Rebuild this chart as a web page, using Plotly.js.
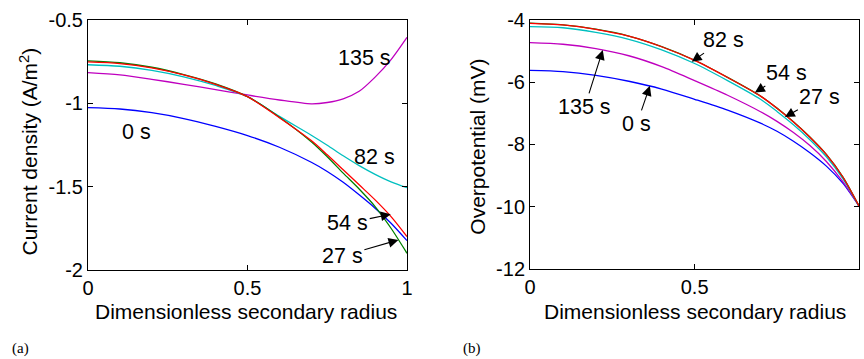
<!DOCTYPE html>
<html>
<head>
<meta charset="utf-8">
<script src="https://cdn.plot.ly/plotly-3.0.1.min.js"></script>
<style>html,body{margin:0;padding:0;background:#fff;}#chart{width:864px;height:359px;}</style>
</head>
<body>
<div id="chart"></div>
<script>
// Dimensionless secondary radius samples
var radius = [0, 0.1, 0.2, 0.3, 0.4, 0.5, 0.6, 0.7, 0.75, 0.8, 0.85, 0.9, 0.95, 1];

// (a) Current density (A/m^2)
var cd_0s   = [-1.028, -1.036, -1.058, -1.093, -1.140, -1.195, -1.265, -1.355, -1.410, -1.475, -1.550, -1.630, -1.720, -1.824];
var cd_27s  = [-0.748, -0.759, -0.786, -0.830, -0.886, -0.962, -1.085, -1.232, -1.322, -1.420, -1.515, -1.620, -1.750, -1.900];
var cd_54s  = [-0.754, -0.764, -0.790, -0.832, -0.888, -0.962, -1.088, -1.225, -1.310, -1.400, -1.490, -1.580, -1.680, -1.800];
var cd_82s  = [-0.771, -0.780, -0.804, -0.843, -0.895, -0.962, -1.080, -1.193, -1.253, -1.316, -1.375, -1.427, -1.472, -1.507];
var cd_135s = [-0.818, -0.832, -0.858, -0.888, -0.920, -0.952, -0.982, -1.005, -0.997, -0.975, -0.930, -0.845, -0.740, -0.607];

// (b) Overpotential (mV)
var op_0s   = [-5.62, -5.66, -5.78, -5.97, -6.22, -6.55, -6.90, -7.32, -7.58, -7.90, -8.27, -8.70, -9.25, -10.0];
var op_27s  = [-4.100, -4.155, -4.295, -4.515, -4.855, -5.295, -5.845, -6.445, -6.835, -7.275, -7.765, -8.325, -9.045, -10.0];
var op_54s  = [-4.106, -4.16, -4.30, -4.52, -4.86, -5.30, -5.85, -6.45, -6.84, -7.28, -7.77, -8.33, -9.05, -10.0];
var op_82s  = [-4.21, -4.25, -4.40, -4.62, -4.96, -5.40, -5.95, -6.55, -6.94, -7.37, -7.85, -8.40, -9.10, -10.0];
var op_135s = [-4.73, -4.78, -4.92, -5.15, -5.50, -5.95, -6.42, -6.95, -7.26, -7.62, -8.04, -8.55, -9.20, -10.0];

var xTicks = [0, 0.5, 1];
var xTickText = ["0", "0.5", "1"];
var yTicksA = [-2, -1.5, -1, -0.5];
var yTickTextA = ["-2", "-1.5", "-1", "-0.5"];
var yTicksB = [-12, -10, -8, -6, -4];
var yTickTextB = ["-12", "-10", "-8", "-6", "-4"];

var seriesNames = ["0 s", "27 s", "54 s", "82 s", "135 s"];
var colors = ["#0000ff", "#008000", "#ff0000", "#00bfbf", "#bf00bf"];
var cdSeries = [cd_0s, cd_27s, cd_54s, cd_82s, cd_135s];
var opSeries = [op_0s, op_27s, op_54s, op_82s, op_135s];
var drawOrder = [0, 4, 3, 1, 2];

var traces = [];
drawOrder.forEach(function (i) {
  traces.push({x: radius, y: cdSeries[i], name: seriesNames[i], type: 'scatter', mode: 'lines',
    line: {color: colors[i], width: 1.3, shape: 'spline', smoothing: 0.8}, xaxis: 'x', yaxis: 'y', showlegend: false});
});
drawOrder.forEach(function (i) {
  traces.push({x: radius, y: opSeries[i], name: seriesNames[i], type: 'scatter', mode: 'lines',
    line: {color: colors[i], width: 1.3, shape: 'spline', smoothing: 0.8}, xaxis: 'x2', yaxis: 'y2', showlegend: false});
});

var FONT = 'Arial';
function axisBase() {
  return {showline: true, linecolor: '#000', linewidth: 1, mirror: 'allticks', ticks: 'inside', ticklen: 5,
    tickcolor: '#000', tickwidth: 1, showgrid: false, zeroline: false, tickmode: 'array',
    tickfont: {family: FONT, size: 20, color: '#000'}, fixedrange: true};
}
var xa = Object.assign(axisBase(), {domain: [0.10185, 0.47106], range: [0, 1], tickvals: xTicks, ticktext: xTickText, anchor: 'y'});
var ya = Object.assign(axisBase(), {domain: [0.24791, 0.94568], range: [-2, -0.5], tickvals: yTicksA, ticktext: yTickTextA, anchor: 'x'});
var xb = Object.assign(axisBase(), {domain: [0.61343, 0.99456], range: [0, 1], tickvals: xTicks, ticktext: xTickText, anchor: 'y2'});
var yb = Object.assign(axisBase(), {domain: [0.25153, 0.94429], range: [-12, -4], tickvals: yTicksB, ticktext: yTickTextB, anchor: 'x2'});

function label(text, xref, yref, x, y, ax, ay) {
  var a = {text: text, xref: xref, yref: yref, x: x, y: y, xanchor: 'center', yanchor: 'middle',
    font: {family: FONT, size: 21.5, color: '#000'}};
  if (ax === undefined) { a.showarrow = false; }
  else { a.showarrow = true; a.ax = ax; a.ay = ay; a.arrowhead = 2; a.arrowsize = 1.8; a.arrowwidth = 1.1; a.arrowcolor = '#000'; a.standoff = 0; }
  return a;
}
function paperText(text, x, y, size, family, angle) {
  return {text: text, xref: 'paper', yref: 'paper', x: x / 864, y: 1 - y / 359, xanchor: 'center', yanchor: 'middle',
    showarrow: false, textangle: angle || 0, font: {family: family, size: size, color: '#000'}};
}

var annotations = [
  label('135 s', 'x', 'y', 0.868, -0.732),
  label('0 s', 'x', 'y', 0.153, -1.172),
  label('82 s', 'x', 'y', 0.897, -1.322),
  label('54 s', 'x', 'y', 0.949, -1.666, -43, 9),
  label('27 s', 'x', 'y', 0.973, -1.820, -56, 16),
  label('82 s', 'x2', 'y2', 0.491, -5.339, 32, -22),
  label('54 s', 'x2', 'y2', 0.683, -6.334, 32, -20),
  label('27 s', 'x2', 'y2', 0.774, -7.124, 35, -20),
  label('135 s', 'x2', 'y2', 0.221, -4.963, -18, 57),
  label('0 s', 'x2', 'y2', 0.364, -6.119, -13, 38),
  paperText('Dimensionless secondary radius', 246, 311, 21, FONT),
  paperText('Dimensionless secondary radius', 694.7, 311, 21, FONT),
  paperText('Current density (A/m<sup>2</sup>)', 28, 151.5, 21, FONT, -90),
  paperText('Overpotential (mV)', 476.7, 147, 21, FONT, -90),
  paperText('(a)', 20.7, 348.3, 15, 'Times New Roman'),
  paperText('(b)', 472.3, 348.3, 15, 'Times New Roman')
];

var layout = {
  width: 864, height: 359, margin: {l: 0, r: 0, t: 0, b: 0},
  paper_bgcolor: '#fff', plot_bgcolor: '#fff', showlegend: false,
  xaxis: xa, yaxis: ya, xaxis2: xb, yaxis2: yb,
  annotations: annotations,
  font: {family: FONT, color: '#000'}
};

Plotly.newPlot('chart', traces, layout, {staticPlot: true, displayModeBar: false});
</script>
</body>
</html>
